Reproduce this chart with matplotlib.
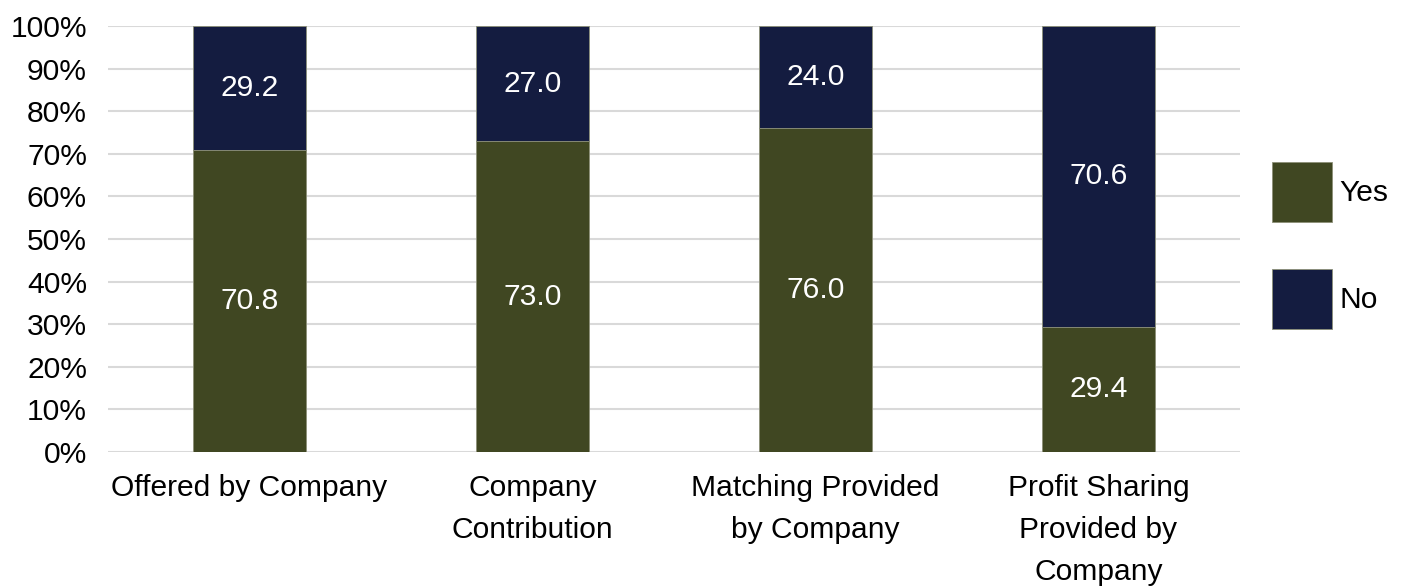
import numpy as np
import matplotlib.pyplot as plt

plt.rcParams['font.family'] = ['Liberation Sans', 'DejaVu Sans']

categories = ['Offered by Company', 'Company\nContribution',
              'Matching Provided\nby Company', 'Profit Sharing\nProvided by\nCompany']
yes_vals = [70.8, 73.0, 76.0, 29.4]
no_vals = [29.2, 27.0, 24.0, 70.6]

green = '#404722'
navy = '#141c40'
fs = 21.6

fig = plt.figure(figsize=(14.01, 5.87), dpi=100)
ax = fig.add_axes([0.077, 0.23, 0.808, 0.7257])

x = np.arange(len(categories))
width = 0.4
b1 = ax.bar(x, yes_vals, width, color=green, edgecolor='#8c9078', linewidth=0.6,
            label='Yes', zorder=3)
b2 = ax.bar(x, no_vals, width, bottom=yes_vals, color=navy, edgecolor='#8c9078',
            linewidth=0.6, label='No', zorder=3)

for bars, vals, bottoms in [(b1, yes_vals, [0] * 4), (b2, no_vals, yes_vals)]:
    for rect, v, b in zip(bars, vals, bottoms):
        ax.text(rect.get_x() + rect.get_width() / 2, b + v / 2, f'{v:.1f}',
                ha='center', va='center', color='white', fontsize=fs, zorder=4)

ax.set_xlim(-0.5, 3.5)
ax.set_ylim(0, 100)
ax.set_yticks(np.arange(0, 101, 10))
ax.set_yticklabels([f'{v}%' for v in range(0, 101, 10)], fontsize=fs)
ax.set_xticks(x)
ax.set_xticklabels(categories, fontsize=fs, linespacing=1.63)
ax.tick_params(axis='both', length=0)
ax.tick_params(axis='x', pad=16)
ax.tick_params(axis='y', pad=15)
ax.yaxis.grid(True, color='#d9d9d9', linewidth=1.5, zorder=0)
ax.set_axisbelow(True)
for s in ax.spines.values():
    s.set_visible(False)

ax.legend(loc='center left', bbox_to_anchor=(1272 / 1401, 0.582),
          bbox_transform=fig.transFigure, frameon=False, fontsize=fs,
          handlelength=2.0, handleheight=2.7, handletextpad=0.25,
          labelspacing=1.55, borderpad=0, borderaxespad=0)

fig.savefig('out.png', dpi=100)
